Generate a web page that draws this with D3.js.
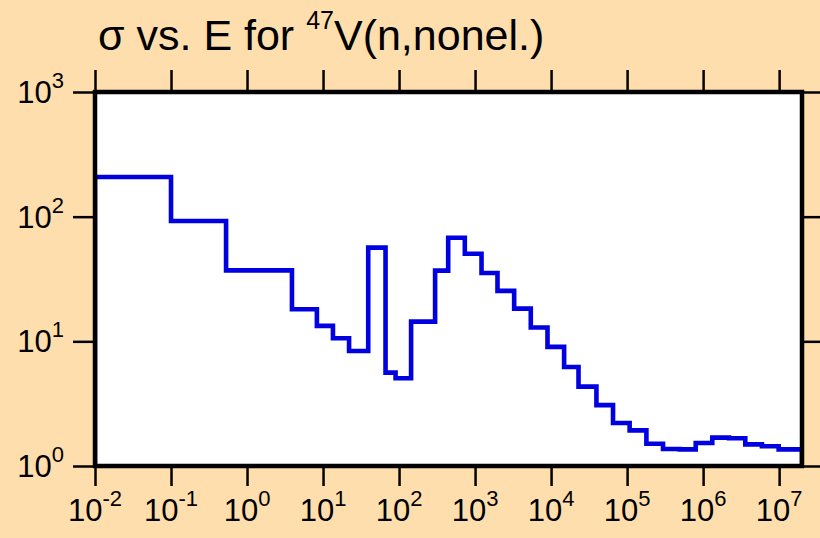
<!DOCTYPE html>
<html>
<head>
<meta charset="utf-8">
<script src="https://cdn.jsdelivr.net/npm/d3@7"></script>
<style>
  html, body { margin: 0; padding: 0; background: #FFDEAD; }
  svg { display: block; }
  text { font-family: "Liberation Sans", Arial, sans-serif; fill: #000; }
</style>
</head>
<body>
<script>
// Bin edges (eV) and cross sections (b) of the step histogram
const binEdges = [1e-2, 0.1, 0.53, 3.9, 8.3, 13.5, 22, 39.3, 66.4, 90, 144, 298, 443, 733,
  1216, 1972, 3268, 5408, 8970, 14840, 22960, 39500, 65300, 108000, 179500, 297000,
  492000, 800000, 1.32e6, 2.19e6, 3.59e6, 5.94e6, 9.86e6, 2e7];
const sigmaValues = [208, 92.3, 37.1, 18.1, 13.3, 10.6, 8.37, 56.4, 5.61, 5.05,
  14.4, 36.9, 67.8, 50.4, 35.3, 25.4, 18.3, 12.9, 9.02, 6.22,
  4.33, 3.08, 2.21, 1.93, 1.51, 1.37, 1.36, 1.53, 1.69, 1.67,
  1.49, 1.44, 1.36];
const xTickExponents = [-2, -1, 0, 1, 2, 3, 4, 5, 6, 7];
const yTickExponents = [0, 1, 2, 3];
const xDomain = [1e-2, 2e7];
const yDomain = [1, 1000];

const W = 820, H = 538;
const plot = { left: 95, right: 802, top: 92, bottom: 466 };

const svg = d3.select("body").append("svg").attr("width", W).attr("height", H);
svg.append("rect").attr("width", W).attr("height", H).attr("fill", "#FFDEAD");

const x = d3.scaleLog().domain(xDomain).range([plot.left, plot.right]);
const y = d3.scaleLog().domain(yDomain).range([plot.bottom, plot.top]);

svg.append("rect")
  .attr("x", plot.left).attr("y", plot.top)
  .attr("width", plot.right - plot.left).attr("height", plot.bottom - plot.top)
  .attr("fill", "#fff");

svg.append("clipPath").attr("id", "clip").append("rect")
  .attr("x", plot.left).attr("y", plot.top)
  .attr("width", plot.right - plot.left).attr("height", plot.bottom - plot.top);

const pts = [[binEdges[0], yDomain[0]]];
binEdges.forEach((e, i) => {
  const v = i < sigmaValues.length ? sigmaValues[i] : sigmaValues[sigmaValues.length - 1];
  pts.push([e, v]);
});
pts.push([binEdges[binEdges.length - 1], yDomain[0]]);

const line = d3.line().x(d => x(d[0])).y(d => y(d[1])).curve(d3.curveStepAfter);
svg.append("path")
  .attr("clip-path", "url(#clip)")
  .attr("d", line(pts))
  .attr("fill", "none")
  .attr("stroke", "rgb(0,0,224)")
  .attr("stroke-width", 4.6)
  .attr("stroke-linejoin", "miter")
  .attr("stroke-linecap", "square");

const xTicks = xTickExponents.map(e => Math.pow(10, e));
const yTicks = yTickExponents.map(e => Math.pow(10, e));

function styleAxis(g) {
  g.select(".domain").remove();
  g.selectAll(".tick line").attr("stroke", "#000").attr("stroke-width", 2.5);
  g.selectAll(".tick text").remove();
}

svg.append("g").attr("transform", `translate(0,${plot.bottom})`)
  .call(d3.axisBottom(x).tickValues(xTicks).tickSize(20).tickFormat(""))
  .call(styleAxis);
svg.append("g").attr("transform", `translate(0,${plot.top})`)
  .call(d3.axisTop(x).tickValues(xTicks).tickSize(22).tickFormat(""))
  .call(styleAxis);
svg.append("g").attr("transform", `translate(${plot.left},0)`)
  .call(d3.axisLeft(y).tickValues(yTicks).tickSize(22).tickFormat(""))
  .call(styleAxis);
svg.append("g").attr("transform", `translate(${plot.right},0)`)
  .call(d3.axisRight(y).tickValues(yTicks).tickSize(20).tickFormat(""))
  .call(styleAxis);

svg.append("rect")
  .attr("x", plot.left).attr("y", plot.top)
  .attr("width", plot.right - plot.left).attr("height", plot.bottom - plot.top)
  .attr("fill", "none").attr("stroke", "#000").attr("stroke-width", 4.5);

function powLabel(sel, exp) {
  sel.append("tspan").attr("font-size", 31).text("10");
  sel.append("tspan").attr("font-size", 22).attr("dy", -15).text(String(exp));
}
xTickExponents.forEach(e => {
  const t = svg.append("text")
    .attr("x", x(Math.pow(10, e)))
    .attr("y", plot.bottom + 55)
    .attr("text-anchor", "middle");
  powLabel(t, e);
});
yTickExponents.forEach(e => {
  const t = svg.append("text")
    .attr("x", 64)
    .attr("y", y(Math.pow(10, e)) + 11)
    .attr("text-anchor", "end");
  powLabel(t, e);
});

const title = svg.append("text").attr("x", 98).attr("y", 50).attr("font-size", 43);
title.append("tspan").text("σ vs. E for ");
title.append("tspan").attr("font-size", 25).attr("dy", -21).text("47");
title.append("tspan").attr("dy", 21).text("V(n,nonel.)");
</script>
</body>
</html>
